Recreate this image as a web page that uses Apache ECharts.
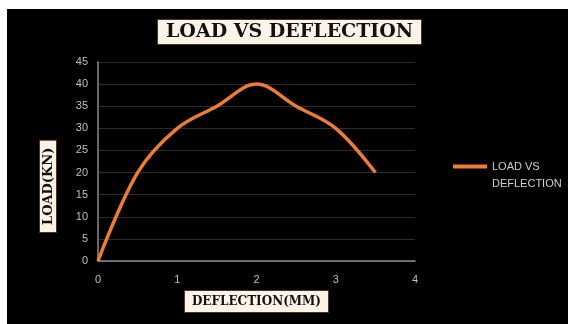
<!DOCTYPE html>
<html>
<head>
<meta charset="utf-8">
<script src="https://cdn.jsdelivr.net/npm/echarts@6/dist/echarts.min.js"></script>
<style>
  html, body { margin: 0; padding: 0; background: #ffffff; }
  #chart { position: absolute; left: 7px; top: 9px; width: 561px; height: 315px; }
</style>
</head>
<body>
<div id="chart"></div>
<script>
// Deflection (mm) vs load (kN)
const deflection = [0, 0.5, 1, 1.5, 2, 2.5, 3, 3.5];
const load = [0, 20, 30, 35, 40, 35, 30, 20];
const seriesName = 'LOAD VS DEFLECTION';
const xTicks = [0, 1, 2, 3, 4];
const yTicks = [0, 5, 10, 15, 20, 25, 30, 35, 40, 45];

const chart = echarts.init(document.getElementById('chart'), null, { renderer: 'canvas' });

const boxFill = '#fdf3e7';
const boxEdge = '#4a3320';
const serif = 'DejaVu Serif';

chart.setOption({
  backgroundColor: '#000000',
  animation: false,
  title: {
    text: 'LOAD VS DEFLECTION',
    left: 150,
    top: 10,
    padding: [4, 9, 3, 9],
    backgroundColor: boxFill,
    borderColor: boxEdge,
    borderWidth: 1,
    textStyle: {
      color: '#111111',
      fontFamily: serif,
      fontWeight: 'bold',
      fontSize: 19
    }
  },
  legend: {
    left: 446,
    top: 132,
    padding: 0,
    itemWidth: 34,
    itemHeight: 4,
    itemGap: 4,
    data: [{ name: seriesName, icon: 'rect' }],
    formatter: function () { return ' \nLOAD VS\nDEFLECTION'; },
    textStyle: {
      color: '#cfcfcf',
      fontFamily: 'Liberation Sans',
      fontSize: 11,
      lineHeight: 17
    }
  },
  grid: { left: 91, right: 153, top: 53, bottom: 63 },
  xAxis: {
    type: 'value',
    min: xTicks[0],
    max: xTicks[xTicks.length - 1],
    interval: 1,
    name: 'DEFLECTION(MM)',
    nameLocation: 'middle',
    nameGap: 29,
    nameTextStyle: {
      color: '#111111',
      fontFamily: serif,
      fontWeight: 'bold',
      fontSize: 12,
      backgroundColor: boxFill,
      borderColor: boxEdge,
      borderWidth: 1,
      padding: [5, 7, 4, 7]
    },
    axisLine: { lineStyle: { color: '#8a8a8a', width: 1.5 } },
    axisTick: { show: false },
    axisLabel: { color: '#bfbfbf', fontFamily: 'Liberation Sans', fontSize: 11, margin: 13 },
    splitLine: { show: false }
  },
  yAxis: {
    type: 'value',
    min: yTicks[0],
    max: yTicks[yTicks.length - 1],
    interval: 5,
    axisLine: { show: true, lineStyle: { color: '#8a8a8a', width: 1.5 } },
    axisTick: { show: false },
    axisLabel: { color: '#bfbfbf', fontFamily: 'Liberation Sans', fontSize: 11, margin: 10 },
    splitLine: { show: true, lineStyle: { color: '#2c2c2c', width: 1 } }
  },
  graphic: [{
    type: 'text',
    x: 33,
    y: 223,
    rotation: Math.PI / 2,
    originX: 0,
    originY: 0,
    style: {
      text: 'LOAD(KN)',
      fill: '#111111',
      font: 'bold 13px "DejaVu Serif"',
      backgroundColor: boxFill,
      borderColor: boxEdge,
      borderWidth: 1,
      padding: [2, 7, 1, 7]
    }
  }],
  series: [{
    name: seriesName,
    type: 'line',
    smooth: 0.35,
    showSymbol: false,
    symbol: 'none',
    data: deflection.map((d, i) => [d, load[i]]),
    itemStyle: { color: '#ed7d31' },
    lineStyle: { color: '#ed7d31', width: 3.5 }
  }]
});
</script>
</body>
</html>
